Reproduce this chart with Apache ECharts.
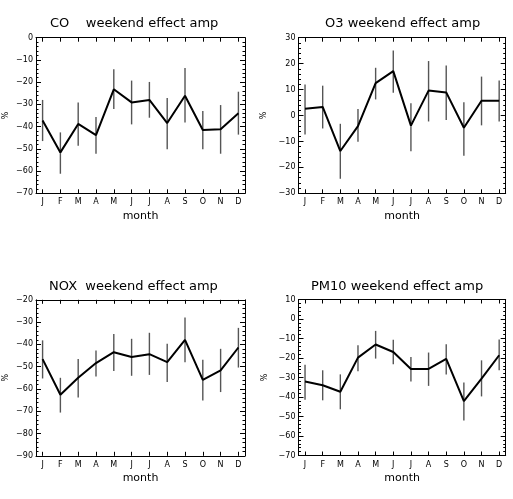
<!DOCTYPE html>
<html>
<head>
<meta charset="utf-8">
<script src="https://cdn.jsdelivr.net/npm/echarts@6/dist/echarts.min.js"></script>
<style>
html, body { margin: 0; padding: 0; background: #fff; }
#main { width: 513px; height: 499px; }
</style>
</head>
<body>
<div id="main"></div>
<script>
// month letters on the x axis
var months = ['J', 'F', 'M', 'A', 'M', 'J', 'J', 'A', 'S', 'O', 'N', 'D'];

// CO
var coVal  = [-37.3, -51.6, -38.8, -43.8, -23.2, -29.1, -28.0, -38.4, -26.1, -41.5, -41.2, -34.0];
var coLow  = [-46.5, -61.2, -48.6, -52.2, -32.1, -39.0, -36.0, -50.2, -38.1, -50.2, -52.2, -43.6];
var coHigh = [-28.0, -42.6, -29.2, -35.7, -14.2, -19.3, -19.9, -27.1, -13.6, -33.0, -30.3, -24.3];

// O3
var o3Val  = [2.6, 3.3, -13.7, -4.1, 12.5, 17.1, -3.9, 9.6, 8.9, -4.7, 5.7, 5.7];
var o3Low  = [-7.3, -5.0, -24.4, -10.1, 6.2, 8.8, -13.8, -2.3, -1.7, -15.5, -3.8, -2.3];
var o3High = [12.0, 11.5, -3.2, 2.5, 18.4, 25.1, 4.7, 21.0, 19.3, 5.1, 15.0, 13.5];

// NOX
var noxVal  = [-46.6, -62.6, -55.0, -48.4, -43.5, -45.7, -44.4, -48.0, -38.0, -55.9, -51.7, -41.4];
var noxLow  = [-55.3, -70.6, -63.8, -54.4, -51.9, -54.1, -53.7, -56.9, -48.0, -65.2, -61.4, -50.4];
var noxHigh = [-38.2, -55.0, -46.6, -42.7, -35.3, -37.5, -34.8, -39.7, -27.9, -46.9, -42.0, -32.6];

// PM10
var pmVal  = [-32.1, -34.0, -37.3, -19.8, -13.1, -16.9, -25.6, -25.6, -20.5, -42.1, -30.6, -18.6];
var pmLow  = [-41.4, -41.7, -46.3, -26.8, -20.3, -23.2, -32.0, -34.3, -28.4, -52.0, -39.7, -26.3];
var pmHigh = [-23.4, -26.3, -28.4, -13.5, -6.1, -10.7, -19.5, -17.2, -12.9, -32.5, -21.2, -10.5];

var titles = ['CO    weekend effect amp', 'O3 weekend effect amp', 'NOX  weekend effect amp', 'PM10 weekend effect amp'];
var yRanges = [[-70, 0], [-30, 30], [-90, -20], [-70, 10]];
var panelVals = [coVal, o3Val, noxVal, pmVal];
var panelLows = [coLow, o3Low, noxLow, pmLow];
var panelHighs = [coHigh, o3High, noxHigh, pmHigh];

// panel placement
var boxes = [
    {left: 36, top: 37.7, width: 209, height: 155.6, titleX: 50, titleY: 17.5, nameGap: 26},
    {left: 298.5, top: 37.7, width: 207.2, height: 155.6, titleX: 325, titleY: 17.5, nameGap: 31},
    {left: 36, top: 299.8, width: 209, height: 156, titleX: 49, titleY: 280, nameGap: 26.5},
    {left: 298.5, top: 299.5, width: 207.2, height: 156, titleX: 311, titleY: 280, nameGap: 30}
];

var FONT = 'DejaVu Sans';
var tickPos = months.map(function (m, i) { return i + 1; });

var option = {
    backgroundColor: '#fff',
    animation: false,
    title: [], grid: [], xAxis: [], yAxis: [], series: []
};

boxes.forEach(function (b, p) {
    option.title.push({
        text: titles[p], left: b.titleX, top: b.titleY, padding: 0,
        textStyle: {fontFamily: FONT, fontSize: 13, fontWeight: 'normal', color: '#000'}
    });
    option.grid.push({left: b.left, top: b.top, width: b.width, height: b.height});

    var axLine = {show: true, onZero: false, lineStyle: {color: '#000', width: 1}};
    // bottom x
    option.xAxis.push({
        type: 'value', gridIndex: p, position: 'bottom', min: 0.63, max: 12.37,
        name: 'month', nameLocation: 'middle', nameGap: 17,
        nameTextStyle: {fontFamily: FONT, fontSize: 11, color: '#000'},
        axisLine: axLine,
        axisTick: {inside: true, length: 4, customValues: tickPos, lineStyle: {color: '#000'}},
        axisLabel: {
            customValues: tickPos, margin: 5, fontFamily: FONT, fontSize: 8, color: '#000',
            formatter: function (v) { return months[Math.round(v) - 1]; }
        },
        splitLine: {show: false}
    });
    // top x (ticks only)
    option.xAxis.push({
        type: 'value', gridIndex: p, position: 'top', min: 0.63, max: 12.37,
        axisLine: axLine,
        axisTick: {inside: true, length: 4, customValues: tickPos, lineStyle: {color: '#000'}},
        axisLabel: {show: false}, splitLine: {show: false}
    });
    // left y
    option.yAxis.push({
        type: 'value', gridIndex: p, position: 'left', min: yRanges[p][0], max: yRanges[p][1], interval: 10,
        name: '%', nameLocation: 'middle', nameGap: b.nameGap, nameRotate: 90,
        nameTextStyle: {fontFamily: FONT, fontSize: 8, color: '#000'},
        axisLine: axLine,
        axisTick: {inside: true, length: 5, lineStyle: {color: '#000'}},
        minorTick: {show: true, splitNumber: 5, length: 2.5, lineStyle: {color: '#000'}},
        axisLabel: {margin: 3, fontFamily: FONT, fontSize: 8, color: '#000',
            formatter: function (v) { return String(v).replace('-', '\u2212'); }},
        splitLine: {show: false}
    });
    // right y (ticks only)
    option.yAxis.push({
        type: 'value', gridIndex: p, position: 'right', min: yRanges[p][0], max: yRanges[p][1], interval: 10,
        axisLine: axLine,
        axisTick: {inside: true, length: 5, lineStyle: {color: '#000'}},
        minorTick: {show: true, splitNumber: 5, length: 2.5, lineStyle: {color: '#000'}},
        axisLabel: {show: false}, splitLine: {show: false}
    });

    var vals = panelVals[p], lows = panelLows[p], highs = panelHighs[p];
    // error bars
    option.series.push({
        type: 'custom', xAxisIndex: p * 2, yAxisIndex: p * 2, z: 1,
        data: vals.map(function (v, i) { return [i + 1, lows[i], highs[i]]; }),
        renderItem: function (params, api) {
            var a = api.coord([api.value(0), api.value(1)]);
            var c = api.coord([api.value(0), api.value(2)]);
            return {
                type: 'line',
                shape: {x1: a[0], y1: a[1], x2: c[0], y2: c[1]},
                style: {stroke: '#555', lineWidth: 1.4}
            };
        }
    });
    // mean line
    option.series.push({
        type: 'line', xAxisIndex: p * 2, yAxisIndex: p * 2, z: 2,
        data: vals.map(function (v, i) { return [i + 1, v]; }),
        symbol: 'none', lineStyle: {color: '#000', width: 2}
    });
});

var chart = echarts.init(document.getElementById('main'));
chart.setOption(option);
</script>
</body>
</html>
